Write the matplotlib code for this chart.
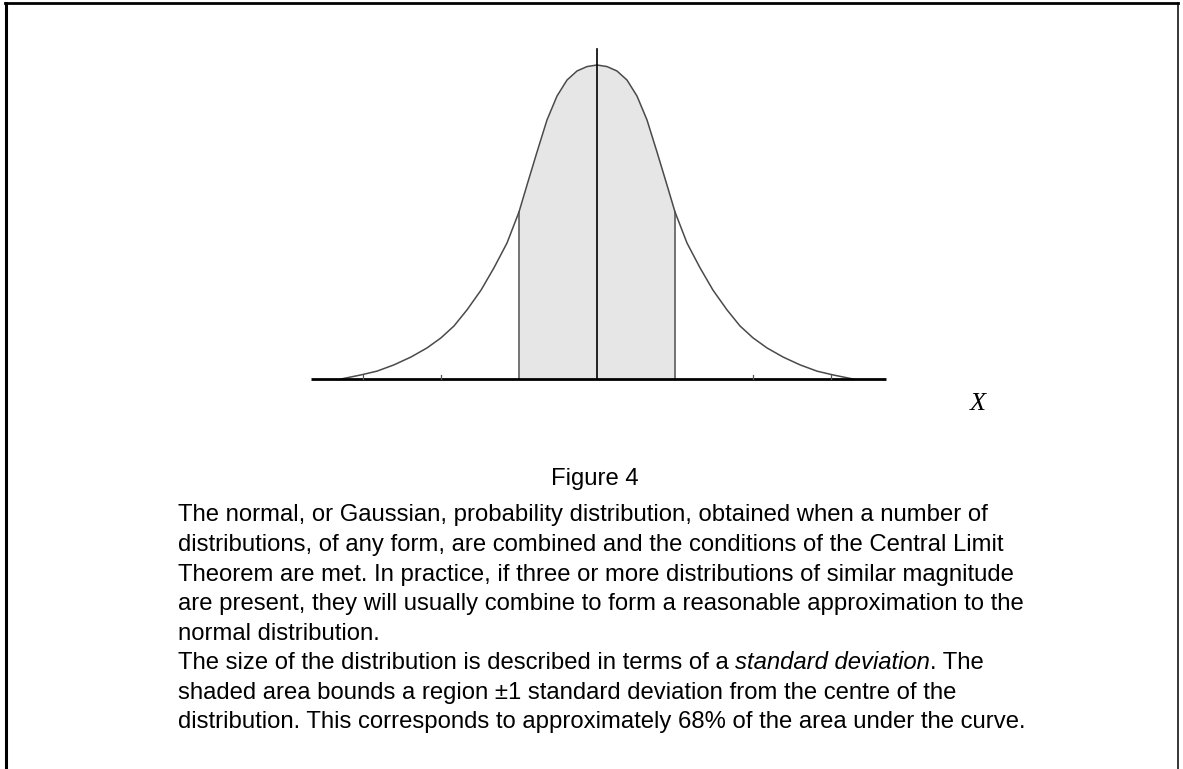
import numpy as np
import matplotlib
matplotlib.use("Agg")
import matplotlib.pyplot as plt
from matplotlib.lines import Line2D

W, H = 1183, 769

# Curve heights (fraction of the peak) at distances from the centre, in standard deviations
curve_sd = [0.0, 0.128, 0.256, 0.385, 0.513, 0.641, 0.769, 0.897, 1.0, 1.154, 1.321,
            1.487, 1.667, 1.833, 2.0, 2.179, 2.385, 2.603, 2.821, 3.026, 3.282]
curve_h = [1.0, 0.995, 0.981, 0.952, 0.901, 0.825, 0.723, 0.618, 0.532, 0.433, 0.354,
           0.283, 0.220, 0.169, 0.131, 0.099, 0.070, 0.045, 0.025, 0.013, 0.0]
shade_limits = [-1.0, 1.0]
minor_ticks = [-3, -2, 2, 3]

caption_title = "Figure 4"
caption_lines = [
    "The normal, or Gaussian, probability distribution, obtained when a number of",
    "distributions, of any form, are combined and the conditions of the Central Limit",
    "Theorem are met. In practice, if three or more distributions of similar magnitude",
    "are present, they will usually combine to form a reasonable approximation to the",
    "normal distribution.",
]
sd_line = ["The size of the distribution is described in terms of a ", "standard deviation", ". The"]
caption_tail = [
    "shaded area bounds a region \u00b11 standard deviation from the centre of the",
    "distribution. This corresponds to approximately 68% of the area under the curve.",
]

fam = "Liberation Sans"
fs = 17.2

fig = plt.figure(figsize=(W / 100, H / 100), dpi=100)
fig.patch.set_facecolor("white")

# Axes placed in pixel units: centre at x=597, 78 px per sd, baseline at y=379, peak at y=65
cx, unit, base_y, peak_y, top_y = 597, 78.0, 379, 65, 49
left_px, right_px = 311, 886
x0 = (left_px - cx) / unit
x1 = (right_px - cx) / unit
ytop = (base_y - top_y) / (base_y - peak_y)
ax = fig.add_axes([left_px / W, (H - base_y) / H, (right_px - left_px) / W, (base_y - top_y) / H])
ax.set_xlim(x0, x1)
ax.set_ylim(0, ytop)
ax.axis("off")

xs = np.array([-v for v in curve_sd[::-1]] + curve_sd[1:])
ys = np.array(curve_h[::-1] + curve_h[1:])

# shaded band of +-1 sd
m = (xs >= shade_limits[0]) & (xs <= shade_limits[1])
ax.fill_between(xs[m], 0, ys[m], color="#e6e6e6", lw=0, zorder=1)
for s in shade_limits:
    ax.plot([s, s], [0, np.interp(s, xs, ys)], color="#505050", lw=1.1, zorder=3)

ax.plot(xs, ys, color="#4a4a4a", lw=1.1, zorder=4, solid_joinstyle="round")
ax.plot([0, 0], [0, ytop], color="black", lw=1.2, zorder=5, clip_on=False)
ax.plot([x0, x1], [0, 0], color="black", lw=2.0, zorder=6, clip_on=False, solid_capstyle="butt")
for t in minor_ticks:
    ax.plot([t, t], [0, 0.012], color="#555555", lw=0.9, zorder=6, clip_on=False)

# X label
fig.text(978 / W, 1 - 404 / H, "X", family="Liberation Serif", style="italic",
         fontsize=19, ha="center", va="center")

# frame lines
fig.add_artist(Line2D([6 / W, 6 / W], [0, 1 - 2.5 / H], color="black", lw=2.2))
fig.add_artist(Line2D([5 / W, 1178 / W], [1 - 3 / H, 1 - 3 / H], color="black", lw=2.0))
fig.add_artist(Line2D([1178 / W, 1178 / W], [0, 1 - 3 / H], color="black", lw=1.1))

fig.text(595 / W, 1 - 485 / H, caption_title, family=fam, fontsize=fs,
         ha="center", va="baseline")

x_text = 178
y0, dy = 521.5, 29.5
row = 0
for line in caption_lines:
    fig.text(x_text / W, 1 - (y0 + dy * row) / H, line, family=fam, fontsize=fs, va="baseline")
    row += 1

fig.canvas.draw()
renderer = fig.canvas.get_renderer()


def width_px(s, **kw):
    t = fig.text(0, 0, s, family=fam, fontsize=fs, **kw)
    w = t.get_window_extent(renderer).width
    t.remove()
    return w


space = width_px("x x") - width_px("xx")
yy = 1 - (y0 + dy * row) / H
xp = x_text
pieces = [(sd_line[0].rstrip(), "normal", True), (sd_line[1], "italic", False), (sd_line[2], "normal", False)]
for txt, st, trailing_space in pieces:
    t = fig.text(xp / W, yy, txt, family=fam, fontsize=fs, style=st, va="baseline")
    xp += t.get_window_extent(renderer).width + (space if trailing_space else 0)
row += 1

for line in caption_tail:
    fig.text(x_text / W, 1 - (y0 + dy * row) / H, line, family=fam, fontsize=fs, va="baseline")
    row += 1

fig.savefig("out.png", dpi=100, facecolor="white")
